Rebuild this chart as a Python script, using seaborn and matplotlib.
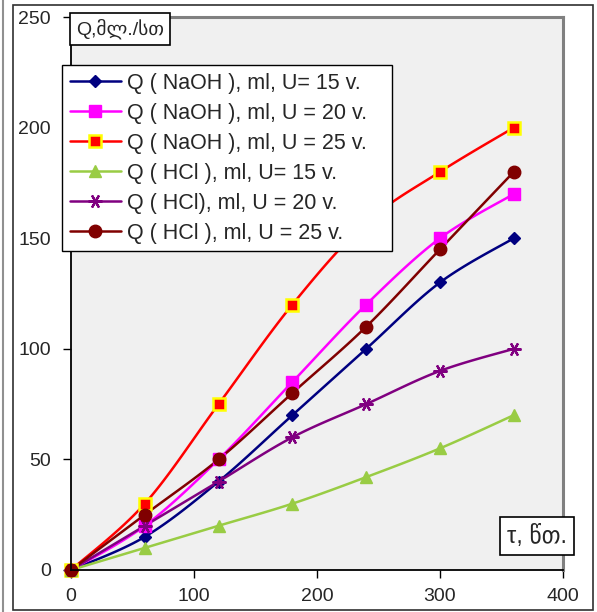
import numpy as np
import pandas as pd
import matplotlib
matplotlib.use("Agg")
import matplotlib.pyplot as plt
import seaborn as sns
from matplotlib.lines import Line2D
from matplotlib.patches import Rectangle

sns.set_style("white")
plt.rcParams['font.family'] = ['Liberation Sans', 'DejaVu Sans']

# ---- data ----
time_min = [0, 60, 120, 180, 240, 300, 360]
naoh_15 = [0, 15, 40, 70, 100, 130, 150]
naoh_20 = [0, 20, 50, 85, 120, 150, 170]
naoh_25 = [0, 30, 75, 120, 157, 180, 200]
hcl_15 = [0, 10, 20, 30, 42, 55, 70]
hcl_20 = [0, 20, 40, 60, 75, 90, 100]
hcl_25 = [0, 25, 50, 80, 110, 145, 180]

labels = ["Q ( NaOH ), ml, U= 15 v.",
          "Q ( NaOH ), ml, U = 20 v.",
          "Q ( NaOH ), ml, U = 25 v.",
          "Q ( HCl ), ml, U= 15 v.",
          "Q ( HCl), ml, U = 20 v.",
          "Q ( HCl ), ml, U = 25 v."]
series = [naoh_15, naoh_20, naoh_25, hcl_15, hcl_20, hcl_25]
x_ticks = [0, 100, 200, 300, 400]
y_ticks = [0, 50, 100, 150, 200, 250]

styles = [
    dict(color="#000080", marker="D", ms=6.5, mfc="#000080", mec="#000080", mew=1),
    dict(color="#FF00FF", marker="s", ms=8.5, mfc="#FF00FF", mec="#FF00FF", mew=1),
    dict(color="#FF0000", marker="s", ms=8.5, mfc="#FF0000", mec="#FFFF00", mew=1.8),
    dict(color="#99CC44", marker="^", ms=9, mfc="#99CC44", mec="#99CC44", mew=1),
    dict(color="#800080", marker=(6, 2, 90), ms=10, mfc="#800080", mec="#800080", mew=1.6),
    dict(color="#800000", marker="o", ms=9, mfc="#800000", mec="#800000", mew=1),
]


def catmull_rom(xs, ys, n=20):
    P = np.column_stack([xs, ys]).astype(float)
    P = np.vstack([P[0], P, P[-1]])
    out = []
    for i in range(1, len(P) - 2):
        p0, p1, p2, p3 = P[i - 1], P[i], P[i + 1], P[i + 2]
        t = np.linspace(0, 1, n, endpoint=False)[:, None]
        c = 0.5 * ((2 * p1) + (-p0 + p2) * t + (2 * p0 - 5 * p1 + 4 * p2 - p3) * t ** 2
                   + (-p0 + 3 * p1 - 3 * p2 + p3) * t ** 3)
        out.append(c)
    out.append(P[-2][None, :])
    c = np.vstack(out)
    return c[:, 0], c[:, 1]


fig = plt.figure(figsize=(5.97, 6.12), dpi=100)
ax = fig.add_axes([71 / 597, 42 / 612, 492 / 597, 553 / 612])
ax.set_facecolor("#F0F0F0")

handles = []
for ys, lab, st in zip(series, labels, styles):
    sx, sy = catmull_rom(time_min, ys)
    df_s = pd.DataFrame({"x": sx, "y": sy})
    sns.lineplot(data=df_s, x="x", y="y", sort=False, ax=ax, color=st["color"], lw=1.8,
                 estimator=None, zorder=3)
    df_p = pd.DataFrame({"x": time_min, "y": ys})
    ax.plot(df_p["x"], df_p["y"], ls="none", marker=st["marker"], ms=st["ms"],
            mfc=st["mfc"], mec=st["mec"], mew=st["mew"], zorder=4, clip_on=False)
    handles.append(Line2D([], [], color=st["color"], lw=1.8, marker=st["marker"],
                          ms=st["ms"], mfc=st["mfc"], mec=st["mec"], mew=st["mew"]))

ax.set_xlim(0, 400)
ax.set_ylim(0, 250)
ax.set_xticks(x_ticks)
ax.set_yticks(y_ticks)
ax.set_xlabel("")
ax.set_ylabel("")
ax.tick_params(axis="both", direction="out", length=6, width=1, color="black",
               labelsize=14, left=True, bottom=True)
ax.tick_params(axis="y", pad=8.5)
ax.tick_params(axis="x", pad=7)
for s in ["left", "bottom"]:
    ax.spines[s].set_color("black")
    ax.spines[s].set_linewidth(1.3)
for s in ["top", "right"]:
    ax.spines[s].set_color("#808080")
    ax.spines[s].set_linewidth(2.2)
for sp in ax.spines.values():
    sp.set_zorder(5)

# legend
leg_x0, leg_y0 = 62 / 597, 1 - 250 / 612
leg_w, leg_h = 330 / 597, 185 / 612
leg = fig.legend(handles, labels, loc="upper left", mode="expand",
                 bbox_to_anchor=(leg_x0, leg_y0, leg_w, leg_h),
                 fontsize=15.5, frameon=True, fancybox=False, edgecolor="black",
                 facecolor="white", framealpha=1, handlelength=2.4, handletextpad=0.25,
                 labelspacing=0.42, borderpad=0.35, borderaxespad=0)
leg.get_frame().set_linewidth(1.0)
leg.set_zorder(8)

# axis title boxes
fig.text(120 / 597, 1 - 29 / 612, "Q,მლ./სთ", ha="center", va="center", fontsize=14,
         bbox=dict(boxstyle="square,pad=0.3", fc="white", ec="black", lw=1.2), zorder=10)
fig.text(537 / 597, 1 - 536 / 612, "τ, წთ.", ha="center", va="center", fontsize=17,
         bbox=dict(boxstyle="square,pad=0.3", fc="white", ec="black", lw=1.2), zorder=10)

# chart-area border and outer page line
fig.patches.append(Rectangle((13 / 597, 2 / 612), 580 / 597, 605 / 612,
                             transform=fig.transFigure, fill=False,
                             ec="#303030", lw=1.2))
fig.lines.append(Line2D([3 / 597, 3 / 597], [0, 1], transform=fig.transFigure,
                        color="#909090", lw=1.5))

fig.savefig("out.png", dpi=100)
